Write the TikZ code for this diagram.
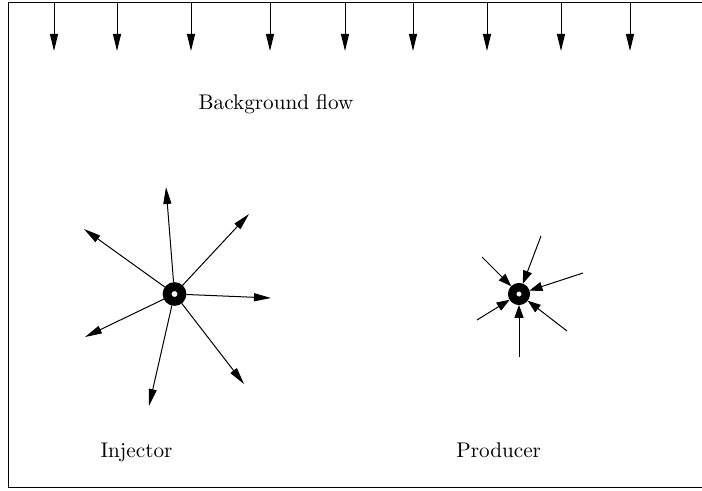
\documentclass[tikz,border=0pt]{standalone}
\usetikzlibrary{arrows.meta}
\begin{document}
\begin{tikzpicture}[x=0.5pt,y=-0.5pt,
  flow/.style={line width=0.5pt,-{Triangle[length=8.5pt,width=4pt]}},
  inflow/.style={line width=0.5pt,-{Triangle[length=6.5pt,width=4.6pt]}},
  well/.style={circle,draw,line width=4.4pt,minimum size=7.4pt,inner sep=0pt,fill=white},
  pwell/.style={circle,draw,line width=4.2pt,minimum size=6.8pt,inner sep=0pt,fill=white},
  lbl/.style={font=\fontsize{10.6}{12}\selectfont,inner sep=0pt,anchor=base}]
\useasboundingbox (0,0) rectangle (702,491);
\draw[line width=0.5pt] (702,3) -- (8.5,3) -- (8.5,488) -- (702,488);
% background flow arrows
\foreach \x [count=\i] in {54,117,191,270,345,413,487,561,630}{
  \coordinate (t\i) at (\x,3);
  \coordinate (b\i) at (\x,51);
  \draw[flow] (t\i) -- (b\i);
}
\node[lbl] (bg) at (276,110) {Background flow};
% injector
\node[well] (inj) at (174.5,294) {};
\foreach \n/\x/\y in {a/166/187,b/249/214,c/84/229,d/271/298,e/85/337,f/149/406,g/244/384}{
  \coordinate (i\n) at (\x,\y);
  \draw[flow] (inj) -- (i\n);
}
% producer
\node[pwell] (prod) at (519,294) {};
\coordinate (pa) at (482,257);
\coordinate (pb) at (541,236);
\coordinate (pc) at (583,273);
\coordinate (pd) at (477,320);
\coordinate (pe) at (567,331);
\coordinate (pf) at (519,357);
\foreach \n in {a,b,c,d,e,f}{\draw[inflow] (p\n) -- (prod);}
\node[lbl] (injl) at (136.5,458) {Injector};
\node[lbl] (prodl) at (498.7,458) {Producer};
\end{tikzpicture}
\end{document}
